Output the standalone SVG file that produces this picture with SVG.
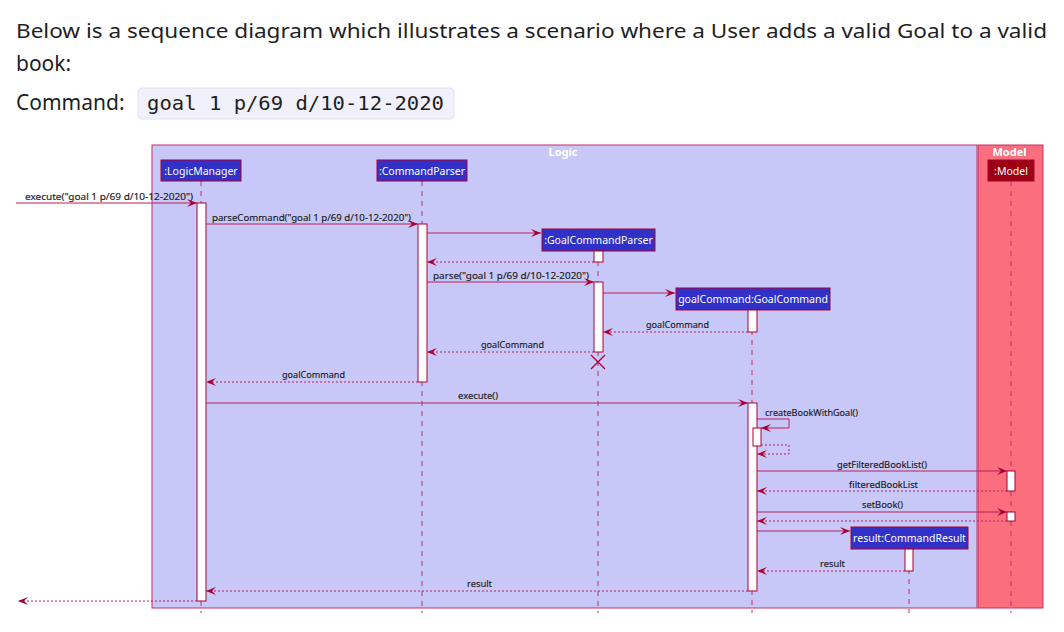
<svg xmlns="http://www.w3.org/2000/svg" width="1064" height="632" viewBox="0 0 1064 632">
<style>
.intro{font-family:"Noto Sans","Open Sans",sans-serif;font-size:19.5px;fill:#1f1f1f}
.intro2{font-family:"Noto Sans","Open Sans",sans-serif;font-size:21px;fill:#1f1f1f}
.code{font-family:"DejaVu Sans Mono","Liberation Mono",monospace;font-size:20px;fill:#1f1f1f}
.pbox{fill:#3131c8;stroke:#a80036;stroke-width:1}
.pboxm{fill:#9c0012;stroke:#a80036;stroke-width:1}
.ptext{font-family:"Noto Sans","Liberation Sans",sans-serif;font-size:10.5px;fill:#ffffff}
.title{font-family:"Noto Sans","Liberation Sans",sans-serif;font-size:11px;font-weight:bold;fill:#ffffff}
.life{stroke:#c03068;stroke-width:1;stroke-dasharray:5,5;fill:none}
.act{fill:#ffffff;stroke:#a80036;stroke-width:1}
.msg{stroke:#b8205a;stroke-width:1;fill:none}
.ret{stroke:#b8205a;stroke-width:1;fill:none;stroke-dasharray:2,2}
.lbl{font-family:"Noto Sans","Liberation Sans",sans-serif;font-size:9.5px;fill:#1a1a1a;stroke:#1a1a1a;stroke-width:0.15}
</style>
<defs>
<marker id="ah" markerWidth="10" markerHeight="8" refX="10" refY="4" orient="auto" markerUnits="userSpaceOnUse">
<path d="M0,0 L10,4 L0,8 L4,4 Z" fill="#a80036"/>
</marker>
</defs>
<rect x="0" y="0" width="1064" height="632" fill="#ffffff"/>
<g id="intro">
<text class="intro" x="16" y="38" textLength="1031" lengthAdjust="spacingAndGlyphs">Below is a sequence diagram which illustrates a scenario where a User adds a valid Goal to a valid</text>
<text class="intro2" x="16" y="71">book:</text>
<text class="intro2" x="16" y="110">Command:</text>
<rect x="138" y="88" width="316" height="31" rx="4" fill="#f1f1fb" stroke="#e2e2f0"/>
<text class="code" x="147" y="110" textLength="297" lengthAdjust="spacingAndGlyphs">goal 1 p/69 d/10-12-2020</text>
</g>
<g id="box-logic">
<rect x="152" y="145" width="825" height="463" fill="#c8c8f8" stroke="#c0306a" stroke-width="1"/>
<text class="title" x="563" y="156" text-anchor="middle">Logic</text>
</g>
<g id="box-model">
<rect x="978" y="145" width="65" height="463" fill="#fb6e7e" stroke="#c0306a" stroke-width="1"/>
<text class="title" x="1009.5" y="156" text-anchor="middle">Model</text>
</g>
<g id="lifelines">
<line class="life" x1="201" y1="181" x2="201" y2="613"/>
<line class="life" x1="422" y1="181" x2="422" y2="613"/>
<line class="life" x1="598" y1="251" x2="598" y2="613"/>
<line class="life" x1="752" y1="310" x2="752" y2="613"/>
<line class="life" x1="1011" y1="181" x2="1011" y2="613"/>
<line class="life" x1="909" y1="549" x2="909" y2="613"/>
</g>
<g id="LogicManager">
<rect class="pbox" x="161" y="160" width="80" height="21"/>
<text class="ptext" x="201" y="175" text-anchor="middle">:LogicManager</text>
<rect class="act" x="197" y="203" width="9" height="398"/>
</g>
<g id="CommandParser">
<rect class="pbox" x="377" y="160" width="90" height="21"/>
<text class="ptext" x="422" y="175" text-anchor="middle">:CommandParser</text>
<rect class="act" x="418" y="224" width="9" height="158"/>
</g>
<g id="GoalCommandParser">
<rect class="pbox" x="542" y="229" width="113" height="22"/>
<text class="ptext" x="598.5" y="244" text-anchor="middle">:GoalCommandParser</text>
<rect class="act" x="594" y="251" width="9" height="11"/>
<rect class="act" x="594" y="282" width="9" height="70"/>
<path d="M591,355 L605,369 M605,355 L591,369" stroke="#a80036" stroke-width="1.3" fill="none"/>
</g>
<g id="GoalCommand">
<rect class="pbox" x="676" y="288" width="154" height="22"/>
<text class="ptext" x="753" y="303" text-anchor="middle">goalCommand:GoalCommand</text>
<rect class="act" x="748" y="310" width="9" height="22"/>
<rect class="act" x="748" y="403" width="9" height="188"/>
<rect class="act" x="753" y="428" width="8" height="18"/>
</g>
<g id="Model">
<rect class="pboxm" x="988" y="160" width="46" height="21"/>
<text class="ptext" x="1011" y="175" text-anchor="middle">:Model</text>
<rect class="act" x="1007" y="471" width="8" height="20"/>
<rect class="act" x="1007" y="512" width="8" height="9"/>
</g>
<g id="CommandResult">
<rect class="pbox" x="851" y="527" width="117" height="22"/>
<text class="ptext" x="909.5" y="542" text-anchor="middle">result:CommandResult</text>
<rect class="act" x="905" y="549" width="8" height="22"/>
</g>
<g id="connectors">
<line class="msg" x1="16" y1="203" x2="197" y2="203" marker-end="url(#ah)"/>
<line class="msg" x1="206" y1="224" x2="418" y2="224" marker-end="url(#ah)"/>
<line class="msg" x1="427" y1="233" x2="541" y2="233" marker-end="url(#ah)"/>
<line class="ret" x1="594" y1="262" x2="427" y2="262" marker-end="url(#ah)"/>
<line class="msg" x1="427" y1="282" x2="594" y2="282" marker-end="url(#ah)"/>
<line class="msg" x1="603" y1="293" x2="675" y2="293" marker-end="url(#ah)"/>
<line class="ret" x1="748" y1="332" x2="603" y2="332" marker-end="url(#ah)"/>
<line class="ret" x1="594" y1="352" x2="427" y2="352" marker-end="url(#ah)"/>
<line class="ret" x1="418" y1="382" x2="206" y2="382" marker-end="url(#ah)"/>
<line class="msg" x1="206" y1="403" x2="748" y2="403" marker-end="url(#ah)"/>
<path class="msg" d="M757,419 H789 V428 H761" marker-end="url(#ah)"/>
<path class="ret" d="M761,445 H789 V454 H757" marker-end="url(#ah)"/>
<line class="msg" x1="757" y1="471" x2="1007" y2="471" marker-end="url(#ah)"/>
<line class="ret" x1="1007" y1="491" x2="757" y2="491" marker-end="url(#ah)"/>
<line class="msg" x1="757" y1="512" x2="1007" y2="512" marker-end="url(#ah)"/>
<line class="ret" x1="1007" y1="521" x2="757" y2="521" marker-end="url(#ah)"/>
<line class="msg" x1="757" y1="531" x2="850" y2="531" marker-end="url(#ah)"/>
<line class="ret" x1="905" y1="571" x2="757" y2="571" marker-end="url(#ah)"/>
<line class="ret" x1="748" y1="591" x2="206" y2="591" marker-end="url(#ah)"/>
<line class="ret" x1="197" y1="601" x2="18" y2="601" marker-end="url(#ah)"/>
</g>
<g id="labels">
<text class="lbl" x="25" y="200" textLength="168" lengthAdjust="spacingAndGlyphs">execute("goal 1 p/69 d/10-12-2020")</text>
<text class="lbl" x="212" y="221" textLength="199" lengthAdjust="spacingAndGlyphs">parseCommand("goal 1 p/69 d/10-12-2020")</text>
<text class="lbl" x="433" y="279" textLength="156" lengthAdjust="spacingAndGlyphs">parse("goal 1 p/69 d/10-12-2020")</text>
<text class="lbl" x="646" y="328" textLength="63" lengthAdjust="spacingAndGlyphs">goalCommand</text>
<text class="lbl" x="481" y="348" textLength="63" lengthAdjust="spacingAndGlyphs">goalCommand</text>
<text class="lbl" x="282" y="378" textLength="63" lengthAdjust="spacingAndGlyphs">goalCommand</text>
<text class="lbl" x="458" y="399" textLength="40" lengthAdjust="spacingAndGlyphs">execute()</text>
<text class="lbl" x="765" y="416" textLength="93" lengthAdjust="spacingAndGlyphs">createBookWithGoal()</text>
<text class="lbl" x="837" y="468" textLength="90" lengthAdjust="spacingAndGlyphs">getFilteredBookList()</text>
<text class="lbl" x="849" y="488" textLength="69" lengthAdjust="spacingAndGlyphs">filteredBookList</text>
<text class="lbl" x="862" y="508" textLength="41" lengthAdjust="spacingAndGlyphs">setBook()</text>
<text class="lbl" x="820" y="567" textLength="25" lengthAdjust="spacingAndGlyphs">result</text>
<text class="lbl" x="467" y="587" textLength="25" lengthAdjust="spacingAndGlyphs">result</text>
</g>
</svg>
